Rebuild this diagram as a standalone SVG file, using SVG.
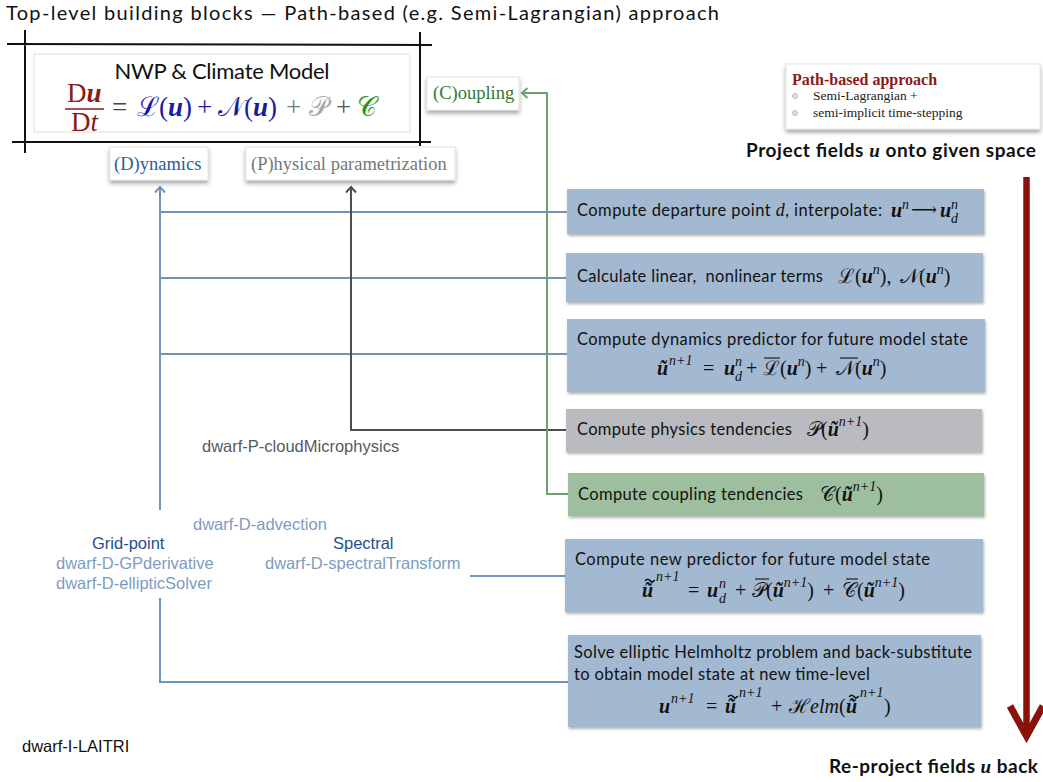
<svg xmlns="http://www.w3.org/2000/svg" width="1043" height="782" viewBox="0 0 1043 782">
<defs>
<style>
text{font-family:Lato,"Open Sans",sans-serif}
.ser{font-family:"Liberation Serif","DejaVu Serif",serif}
.ttl{font-size:20px;fill:#111}
.bt{font-size:16.5px;fill:#111}
.m{font-family:"Liberation Serif","DejaVu Serif",serif;font-size:20px;fill:#111}
.eq{font-family:"Liberation Serif","DejaVu Serif",serif;font-size:27px}
.bi{font-weight:bold;font-style:italic}
.it{font-style:italic}
.sp{font-size:14px;font-style:italic}
.lb{font-family:"Liberation Sans",Arial,sans-serif;font-size:16.5px}
.lbd{fill:#7c9cbf}
.lbh{fill:#1f4f8a}
.cat{font-family:"Liberation Serif","Times New Roman",serif;font-size:18.5px}
.bxb{fill:#a3b9d1;filter:url(#sh)}
.bxg{fill:#b9bbc0;filter:url(#sh)}
.bxc{fill:#9dbf9f;filter:url(#sh)}
.lab{fill:#fff;stroke:#e4e4e4;stroke-width:1;filter:url(#sh2)}
.cb{fill:none;stroke:#7094b9;stroke-width:2}
.cd{fill:none;stroke:#4b4e54;stroke-width:2}
.cg{fill:none;stroke:#6ba36f;stroke-width:2}
.bar{stroke:#111;stroke-width:1.1}
.tl{stroke:#111;stroke-width:1.6;fill:none;stroke-linecap:round}
.frm{stroke:#111;stroke-width:2;fill:none}
.red{stroke:#8a1209;fill:none}
.hd{font-weight:bold;font-size:19px;fill:#111}
</style>
<filter id="sh" x="-5%" y="-20%" width="110%" height="150%">
<feDropShadow dx="1" dy="2" stdDeviation="1.5" flood-color="#000" flood-opacity="0.3"/>
</filter>
<filter id="sh2" x="-10%" y="-30%" width="120%" height="180%">
<feDropShadow dx="0" dy="3" stdDeviation="2" flood-color="#000" flood-opacity="0.35"/>
</filter>
<marker id="mb" viewBox="0 0 10 12" refX="7" refY="6" markerWidth="10" markerHeight="12" markerUnits="userSpaceOnUse" orient="auto"><path d="M1.5,1 L7,6 L1.5,11" fill="none" stroke="#7094b9" stroke-width="2"/></marker>
<marker id="md" viewBox="0 0 10 12" refX="7" refY="6" markerWidth="10" markerHeight="12" markerUnits="userSpaceOnUse" orient="auto"><path d="M1.5,1 L7,6 L1.5,11" fill="none" stroke="#4b4e54" stroke-width="2"/></marker>
<marker id="mg" viewBox="0 0 10 12" refX="7" refY="6" markerWidth="10" markerHeight="12" markerUnits="userSpaceOnUse" orient="auto"><path d="M1.5,1 L7,6 L1.5,11" fill="none" stroke="#6ba36f" stroke-width="2"/></marker>
</defs>
<rect width="1043" height="782" fill="#fff"/>

<text class="ttl" x="6" y="20" textLength="713">Top-level building blocks — Path-based (e.g. Semi-Lagrangian) approach</text>

<g id="connectors">
<path class="cb" d="M160,510 V187" marker-end="url(#mb)"/>
<path class="cb" d="M160,212 H567"/>
<path class="cb" d="M160,278 H566"/>
<path class="cb" d="M160,354 H567"/>
<path class="cb" d="M160,598 V682 H568"/>
<path class="cb" d="M470,576 H565"/>
<path class="cd" d="M566,430 H351 V187" marker-end="url(#md)"/>
<path class="cg" d="M568,494 H547 V93 H522" marker-end="url(#mg)"/>
</g>

<g id="model">
<rect x="34" y="54" width="376" height="78" fill="#fff" stroke="#ddd"/>
<path class="frm" d="M7,44 L432,45 M12,142 L431,142 M25,30 L25,153 M420,32 L420,146"/>
<text x="222" y="79" font-size="22" text-anchor="middle" fill="#111" textLength="215">NWP &amp; Climate Model</text>
<text class="eq" x="67" y="102" fill="#8b1a1a">D<tspan class="bi">u</tspan></text>
<line x1="65" y1="109" x2="104" y2="109" stroke="#8b1a1a" stroke-width="1.3"/>
<text class="eq" x="71" y="131" fill="#8b1a1a">D<tspan class="it">t</tspan></text>
<text class="eq" y="116"><tspan x="112" fill="#444">=</tspan><tspan x="137" fill="#1a1aa6">ℒ(<tspan class="bi">u</tspan>)</tspan><tspan x="197" fill="#1a1aa6">+</tspan><tspan x="218" fill="#1a1aa6">𝒩(<tspan class="bi">u</tspan>)</tspan><tspan x="286" fill="#777">+</tspan><tspan x="309" fill="#aaa">𝒫</tspan><tspan x="336" fill="#555">+</tspan><tspan x="357" fill="#1a9a1a">𝒞</tspan></text>
</g>

<g id="coupling">
<rect class="lab" x="427" y="77" width="92" height="33"/>
<text class="cat" x="433" y="99" fill="#2f7a34">(C)oupling</text>
</g>
<g id="dynamics">
<rect class="lab" x="110" y="147" width="98" height="33"/>
<text class="cat" x="114" y="170" fill="#2a5d9c">(D)ynamics</text>
</g>
<g id="physics">
<rect class="lab" x="246" y="147" width="209" height="33"/>
<text class="cat" x="251" y="170" fill="#777">(P)hysical parametrization</text>
</g>

<g id="pathbased">
<rect class="lab" x="786" y="64" width="254" height="65"/>
<text class="ser" x="792" y="85" font-weight="bold" font-size="16" fill="#8b1a1a">Path-based approach</text>
<circle cx="795" cy="96" r="2.5" fill="#dde0e8" stroke="#a8adb8" stroke-width="0.8"/>
<circle cx="795" cy="113" r="2.5" fill="#dde0e8" stroke="#a8adb8" stroke-width="0.8"/>
<text class="ser" x="813" y="100" font-size="13.5" fill="#222">Semi-Lagrangian +</text>
<text class="ser" x="813" y="117" font-size="13.5" fill="#222">semi-implicit time-stepping</text>
</g>

<g id="flow">
<text class="hd" x="746" y="157" textLength="290">Project fields <tspan class="ser" font-style="italic">u</tspan> onto given space</text>
<path class="red" stroke-width="6.5" d="M1026.5,177 V733"/>
<path class="red" stroke-width="7" d="M1010,706 L1026.5,736 L1043,706"/>
<text class="hd" x="829" y="773" textLength="209">Re-project fields <tspan class="ser" font-style="italic">u</tspan> back</text>
</g>

<g id="step1">
<rect class="bxb" x="567" y="189" width="417" height="45"/>
<text class="bt" x="577" y="216" textLength="305">Compute departure point <tspan class="ser" font-style="italic" font-size="18">d</tspan>, interpolate:</text>
<text class="m"><tspan class="bi" x="891" y="217">u</tspan><tspan class="sp" x="902" y="209">n</tspan><tspan class="bi" x="940" y="217">u</tspan><tspan class="sp" x="951" y="209">n</tspan><tspan class="sp" x="951" y="223">d</tspan></text>
<text class="m" x="911" y="216" textLength="26" lengthAdjust="spacingAndGlyphs">⟶</text>
</g>

<g id="step2">
<rect class="bxb" x="566" y="253" width="417" height="49"/>
<text class="bt" x="577" y="282" textLength="246">Calculate linear,&#160; nonlinear terms</text>
<text class="m"><tspan x="838" y="283">ℒ(</tspan><tspan class="bi">u</tspan><tspan class="sp" y="274">n</tspan><tspan y="283">),</tspan><tspan x="900" y="283">𝒩(</tspan><tspan class="bi">u</tspan><tspan class="sp" y="274">n</tspan><tspan y="283">)</tspan></text>
</g>

<g id="step3">
<rect class="bxb" x="567" y="319" width="418" height="73"/>
<text class="bt" x="577" y="345" textLength="391">Compute dynamics predictor for future model state</text>
<text class="m"><tspan class="bi" x="657" y="375">ũ</tspan><tspan class="sp" x="669" y="365">n+1</tspan><tspan x="703" y="375">=</tspan><tspan class="bi" x="724" y="375">u</tspan><tspan class="sp" x="735" y="366">n</tspan><tspan class="sp" x="735" y="381">d</tspan><tspan x="746" y="375">+</tspan><tspan x="763" y="375">ℒ(</tspan><tspan class="bi">u</tspan><tspan class="sp" y="366">n</tspan><tspan y="375">)</tspan><tspan x="816" y="375">+</tspan><tspan x="836" y="375">𝒩(</tspan><tspan class="bi">u</tspan><tspan class="sp" y="366">n</tspan><tspan y="375">)</tspan></text>
<line class="bar" x1="764" y1="358" x2="780" y2="358"/>
<line class="bar" x1="840" y1="358" x2="858" y2="358"/>
</g>

<g id="step4">
<rect class="bxg" x="566" y="409" width="416" height="43"/>
<text class="bt" x="577" y="435" textLength="215">Compute physics tendencies</text>
<text class="m"><tspan x="807" y="436">𝒫(</tspan><tspan class="bi">ũ</tspan><tspan class="sp" y="426">n+1</tspan><tspan y="436">)</tspan></text>
</g>

<g id="step5">
<rect class="bxc" x="568" y="473" width="416" height="43"/>
<text class="bt" x="578" y="500" textLength="225">Compute coupling tendencies</text>
<text class="m"><tspan x="820" y="501">𝒞(</tspan><tspan class="bi">ũ</tspan><tspan class="sp" y="491">n+1</tspan><tspan y="501">)</tspan></text>
</g>

<g id="step6">
<rect class="bxb" x="565" y="539" width="418" height="73"/>
<text class="bt" x="575" y="565" textLength="355">Compute new predictor for future model state</text>
<text class="m"><tspan class="bi" x="642" y="597">ũ</tspan><tspan class="sp" x="656" y="581">n+1</tspan><tspan x="688" y="597">=</tspan><tspan class="bi" x="707" y="597">u</tspan><tspan class="sp" x="719" y="588">n</tspan><tspan class="sp" x="719" y="603">d</tspan><tspan x="735" y="597">+</tspan><tspan x="752" y="597">𝒫(</tspan><tspan class="bi">ũ</tspan><tspan class="sp" y="587">n+1</tspan><tspan y="597">)</tspan><tspan x="823" y="597">+</tspan><tspan x="842" y="597">𝒞(</tspan><tspan class="bi">ũ</tspan><tspan class="sp" y="587">n+1</tspan><tspan y="597">)</tspan></text>
<path class="tl" d="M645.5,580.5 q2.2,-2.6 4.4,0 t4.4,0"/>
<line class="bar" x1="755" y1="579" x2="769" y2="579"/>
<line class="bar" x1="846" y1="579" x2="858" y2="579"/>
</g>

<g id="step7">
<rect class="bxb" x="568" y="635" width="413" height="92"/>
<text class="bt" x="574" y="658" textLength="398">Solve elliptic Helmholtz problem and back-substitute</text>
<text class="bt" x="574" y="680" textLength="296">to obtain model state at new time-level</text>
<text class="m"><tspan class="bi" x="659" y="713">u</tspan><tspan class="sp" x="671" y="703">n+1</tspan><tspan x="706" y="713">=</tspan><tspan class="bi" x="725" y="713">ũ</tspan><tspan class="sp" x="739" y="697">n+1</tspan><tspan x="771" y="713">+</tspan><tspan x="789" y="713">ℋ<tspan class="it">elm</tspan>(</tspan><tspan class="bi" x="846" y="713">ũ</tspan><tspan class="sp" x="860" y="697">n+1</tspan><tspan x="884" y="713">)</tspan></text>
<path class="tl" d="M728.5,696.5 q2.2,-2.6 4.4,0 t4.4,0"/>
<path class="tl" d="M849.5,696.5 q2.2,-2.6 4.4,0 t4.4,0"/>
</g>

<g id="dwarfs">
<text class="lb" x="202" y="452" fill="#555a60">dwarf-P-cloudMicrophysics</text>
<text class="lb lbd" x="193" y="530">dwarf-D-advection</text>
<text class="lb lbh" x="92" y="549">Grid-point</text>
<text class="lb lbh" x="333" y="549">Spectral</text>
<text class="lb lbd" x="56" y="569">dwarf-D-GPderivative</text>
<text class="lb lbd" x="265" y="569">dwarf-D-spectralTransform</text>
<text class="lb lbd" x="56" y="589">dwarf-D-ellipticSolver</text>
<text class="lb" x="22" y="752" fill="#111">dwarf-I-LAITRI</text>
</g>
</svg>
